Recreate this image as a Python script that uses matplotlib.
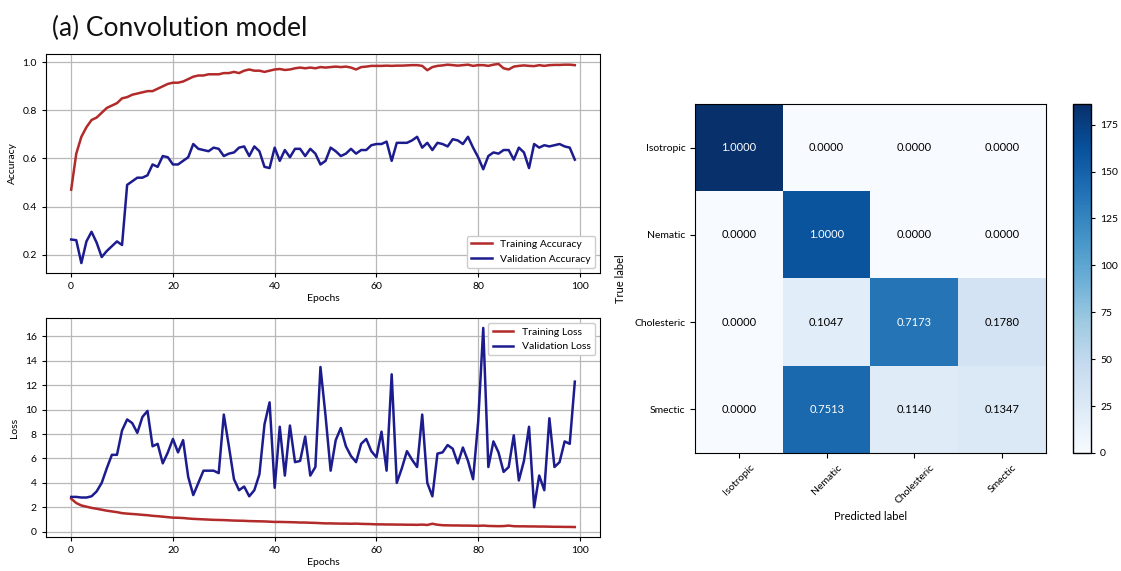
import numpy as np
import matplotlib
matplotlib.use("Agg")
import matplotlib.pyplot as plt

plt.rcParams['font.family'] = ['Lato', 'DejaVu Sans']

# 訓練紀錄（100 個 epoch）
epochs = list(range(100))

train_acc = [0.47, 0.62, 0.69, 0.73, 0.76, 0.77, 0.79, 0.81, 0.82, 0.83,
             0.85, 0.855, 0.865, 0.87, 0.875, 0.88, 0.88, 0.89, 0.90, 0.91,
             0.915, 0.915, 0.92, 0.93, 0.94, 0.945, 0.945, 0.95, 0.95, 0.95,
             0.955, 0.955, 0.96, 0.955, 0.965, 0.97, 0.965, 0.965, 0.96, 0.965,
             0.97, 0.972, 0.968, 0.97, 0.975, 0.978, 0.975, 0.978, 0.975, 0.98,
             0.978, 0.98, 0.982, 0.98, 0.982, 0.978, 0.97, 0.98, 0.982, 0.985,
             0.985, 0.985, 0.986, 0.985, 0.986, 0.986, 0.987, 0.988, 0.988, 0.985,
             0.967, 0.98, 0.985, 0.987, 0.99, 0.988, 0.986, 0.988, 0.99, 0.985,
             0.988, 0.988, 0.985, 0.99, 0.993, 0.975, 0.97, 0.982, 0.985, 0.987,
             0.985, 0.984, 0.988, 0.985, 0.988, 0.989, 0.989, 0.99, 0.99, 0.988]

val_acc = [0.263, 0.26, 0.165, 0.255, 0.295, 0.25, 0.19, 0.215, 0.235, 0.255,
           0.24, 0.49, 0.505, 0.52, 0.52, 0.53, 0.575, 0.565, 0.61, 0.605,
           0.575, 0.575, 0.59, 0.605, 0.66, 0.64, 0.635, 0.63, 0.645, 0.64,
           0.61, 0.62, 0.625, 0.645, 0.65, 0.61, 0.65, 0.63, 0.565, 0.56,
           0.645, 0.59, 0.635, 0.605, 0.64, 0.64, 0.61, 0.64, 0.62, 0.575,
           0.59, 0.645, 0.63, 0.61, 0.62, 0.64, 0.62, 0.635, 0.635, 0.655,
           0.66, 0.66, 0.67, 0.59, 0.665, 0.665, 0.665, 0.675, 0.69, 0.645,
           0.665, 0.635, 0.665, 0.66, 0.65, 0.68, 0.675, 0.66, 0.69, 0.645,
           0.605, 0.555, 0.61, 0.625, 0.62, 0.635, 0.635, 0.595, 0.645, 0.625,
           0.56, 0.66, 0.645, 0.655, 0.65, 0.655, 0.66, 0.65, 0.645, 0.595]

train_loss = [2.70, 2.35, 2.15, 2.05, 1.95, 1.88, 1.80, 1.72, 1.66, 1.60,
              1.52, 1.48, 1.45, 1.42, 1.38, 1.35, 1.30, 1.27, 1.23, 1.19,
              1.15, 1.14, 1.12, 1.08, 1.05, 1.03, 1.01, 0.99, 0.97, 0.96,
              0.95, 0.93, 0.91, 0.90, 0.89, 0.87, 0.86, 0.85, 0.84, 0.82,
              0.80, 0.80, 0.79, 0.78, 0.77, 0.75, 0.75, 0.73, 0.72, 0.70,
              0.68, 0.68, 0.67, 0.66, 0.66, 0.65, 0.66, 0.64, 0.63, 0.62,
              0.60, 0.60, 0.59, 0.59, 0.58, 0.58, 0.57, 0.57, 0.56, 0.58,
              0.55, 0.65, 0.57, 0.53, 0.52, 0.51, 0.51, 0.50, 0.50, 0.49,
              0.48, 0.50, 0.47, 0.46, 0.45, 0.46, 0.50, 0.45, 0.44, 0.44,
              0.43, 0.43, 0.42, 0.42, 0.41, 0.40, 0.40, 0.39, 0.39, 0.38]

val_loss = [2.85, 2.85, 2.8, 2.8, 2.9, 3.3, 4.0, 5.2, 6.3, 6.3,
            8.3, 9.2, 8.9, 8.1, 9.4, 9.9, 7.0, 7.2, 5.6, 6.5,
            7.6, 6.5, 7.5, 4.5, 3.0, 4.0, 5.0, 5.0, 5.0, 4.8,
            9.6, 7.0, 4.3, 3.4, 3.7, 2.9, 3.4, 4.7, 8.8, 10.6,
            3.6, 8.6, 4.6, 8.7, 5.7, 5.8, 7.8, 4.6, 5.3, 13.5,
            9.5, 5.0, 7.5, 8.5, 7.0, 6.2, 5.7, 7.2, 7.6, 6.6,
            6.1, 8.2, 5.0, 12.9, 4.0, 5.2, 6.6, 5.9, 5.3, 9.6,
            4.0, 2.9, 6.4, 6.5, 7.1, 6.8, 5.6, 6.9, 5.8, 4.3,
            9.0, 16.7, 5.3, 7.4, 6.5, 4.9, 5.3, 7.9, 4.2, 5.8,
            8.6, 2.0, 4.6, 3.4, 9.3, 5.3, 5.7, 7.4, 7.2, 12.3]

# 混淆矩陣（樣本數）
classes = ['Isotropic', 'Nematic', 'Cholesteric', 'Smectic']
cm_counts = np.array([[186, 0, 0, 0],
                      [0, 160, 0, 0],
                      [0, 20, 137, 34],
                      [0, 145, 22, 26]])

red = '#b22a2a'
navy = '#1c1c8e'

W, H = 1121, 571
fig = plt.figure(figsize=(W / 100, H / 100), dpi=100)


def px_axes(x0, y0, x1, y1):
    return fig.add_axes([x0 / W, 1 - y1 / H, (x1 - x0) / W, (y1 - y0) / H])


fig.text(52 / W, 1 - 36 / H, '(a) Convolution model', fontsize=19,
         ha='left', va='baseline', color='#111111')

# 準確率
ax1 = px_axes(46, 54, 600, 273)
ax1.plot(epochs, train_acc, color=red, lw=1.8, label='Training Accuracy')
ax1.plot(epochs, val_acc, color=navy, lw=1.8, label='Validation Accuracy')
ax1.set_ylabel('Accuracy', fontsize=7.5)
ax1.set_xlabel('Epochs', fontsize=7.5, labelpad=2)
ax1.grid(True, color='#b8b8b8', lw=0.9)
ax1.tick_params(labelsize=7.5, length=3)
ax1.legend(loc='lower right', fontsize=7.5, framealpha=1, edgecolor='#cccccc')

# 損失
ax2 = px_axes(46, 318, 600, 537)
ax2.plot(epochs, train_loss, color=red, lw=1.8, label='Training Loss')
ax2.plot(epochs, val_loss, color=navy, lw=1.8, label='Validation Loss')
ax2.set_ylabel('Loss', fontsize=7.5)
ax2.set_xlabel('Epochs', fontsize=7.5, labelpad=2)
ax2.set_yticks([0, 2, 4, 6, 8, 10, 12, 14, 16])
ax2.grid(True, color='#b8b8b8', lw=0.9)
ax2.tick_params(labelsize=7.5, length=3)
ax2.legend(loc='upper right', fontsize=7.5, framealpha=1, edgecolor='#cccccc')

# 混淆矩陣
ax3 = px_axes(695, 104, 1046, 453)
im = ax3.imshow(cm_counts, cmap='Blues', vmin=0, vmax=cm_counts.max(),
                interpolation='nearest', aspect='auto')
cm_norm = cm_counts / cm_counts.sum(axis=1, keepdims=True)
thresh = cm_counts.max() / 2
for i in range(len(classes)):
    for j in range(len(classes)):
        ax3.text(j, i, f'{cm_norm[i, j]:.4f}', ha='center', va='center',
                 fontsize=8, color='white' if cm_counts[i, j] > thresh else 'black')
ax3.set_xticks(range(len(classes)))
ax3.set_yticks(range(len(classes)))
ax3.set_xticklabels(classes, rotation=45, ha='center', fontsize=7.5)
ax3.set_yticklabels(classes, fontsize=7.5)
ax3.set_xlabel('Predicted label', fontsize=8)
ax3.set_ylabel('True label', fontsize=8, labelpad=6)

cax = px_axes(1073, 104, 1091, 453)
cb = fig.colorbar(im, cax=cax, ticks=[0, 25, 50, 75, 100, 125, 150, 175])
cb.ax.tick_params(labelsize=7.5, length=3)
cb.outline.set_linewidth(1.0)

fig.savefig('out.png', dpi=100, facecolor='white')
